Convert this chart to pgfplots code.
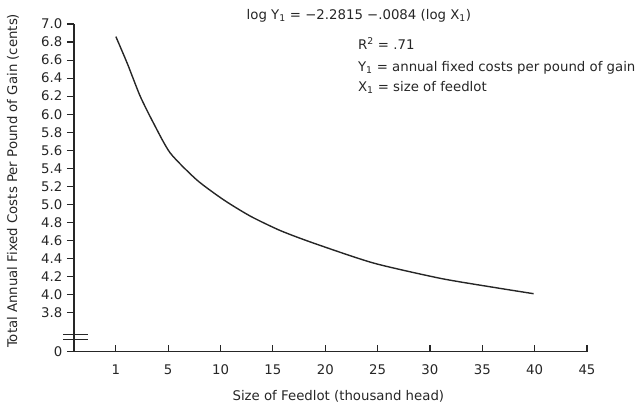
\documentclass[border=0pt]{standalone}
\usepackage{pgfplots}
\pgfplotsset{compat=1.18}
\usepackage{fontspec}
\setmainfont{DejaVu Sans}
\setsansfont{DejaVu Sans}
\definecolor{ink}{gray}{0.15}

% fixed cost curve, x in display units (the "1" tick sits where 0 would be)
\pgfplotstableread{
x y
0     6.86
1.1   6.56
2.32  6.20
3.6   5.90
5.19  5.57
7.74  5.27
10.3  5.05
12.84 4.87
15.7  4.71
18.9  4.57
24.6  4.35
31.0  4.18
36.1  4.08
39.9  4.01
}\costdata

\begin{document}
\fontsize{13.3}{15}\selectfont
\begin{tikzpicture}
\begin{axis}[
  scale only axis, width=513pt, height=327.7pt,
  xmin=-4, xmax=45, ymin=3.367, ymax=7.0,
  axis x line*=bottom, axis y line*=left,
  axis line style={ink, line width=1.3pt},
  tick style={ink, line width=1.1pt},
  tick align=outside, major tick length=7pt,
  xtick={0,5,...,45},
  xticklabels={1,5,10,15,20,25,30,35,40,45},
  x tick style={yshift=6.5pt},
  ytick={3.367,3.8,4.0,4.2,4.4,4.6,4.8,5.0,5.2,5.4,5.6,5.8,6.0,6.2,6.4,6.6,6.8,7.0},
  yticklabels={0,3.8,4.0,4.2,4.4,4.6,4.8,5.0,5.2,5.4,5.6,5.8,6.0,6.2,6.4,6.6,6.8,7.0},
  ticklabel style={font=\fontsize{13.3}{15}\selectfont, text=ink},
  xticklabel style={yshift=-1pt},
  clip=false,
]
\addplot[ink, line width=1.4pt, smooth, tension=0.4] table[x=x,y=y] {\costdata};

\node[anchor=base west, text=ink] at (axis cs:12.05,7.05)
  {log Y\textsubscript{1} = −2.2815 −.0084 (log X\textsubscript{1})};
\node[anchor=base west, text=ink] at (axis cs:22.69,6.72) {R\textsuperscript{2} = .71};
\node[anchor=base west, text=ink] at (axis cs:22.69,6.47)
  {Y\textsubscript{1} = annual fixed costs per pound of gain};
\node[anchor=base west, text=ink] at (axis cs:22.69,6.25)
  {X\textsubscript{1} = size of feedlot};

\node[text=ink, anchor=center, yshift=-45pt] at (axis cs:21.25,3.367)
  {Size of Feedlot (thousand head)};
\node[text=ink, anchor=center, rotate=90] at (axis cs:-9.83,5.26)
  {Total Annual Fixed Costs Per Pound of Gain (cents)};

\coordinate (ll) at (rel axis cs:0,0);
\coordinate (b1a) at (axis cs:-5.04,3.56);
\coordinate (b1b) at (axis cs:-2.65,3.56);
\coordinate (b2a) at (axis cs:-5.04,3.505);
\coordinate (b2b) at (axis cs:-2.65,3.505);
\end{axis}
\draw[ink, line width=1.2pt] (b1a) -- (b1b);
\draw[ink, line width=1.2pt] (b2a) -- (b2b);
\pgfresetboundingbox
\path[use as bounding box] (ll) ++(-74pt,-57.3pt) rectangle ++(641pt,409pt);
\end{tikzpicture}
\end{document}
